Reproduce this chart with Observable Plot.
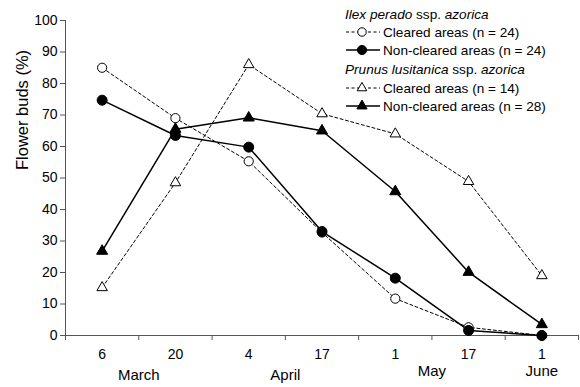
<!DOCTYPE html>
<html>
<head>
<meta charset="utf-8">
<script src="https://cdn.jsdelivr.net/npm/d3@7"></script>
<script src="https://cdn.jsdelivr.net/npm/@observablehq/plot@0.6"></script>
<style>
  html, body { margin: 0; padding: 0; background: white; }
  #chart { width: 580px; height: 387px; }
  svg { display: block; }
</style>
</head>
<body>
<div id="chart"></div>
<script>
// Sampling dates (day of month) and the month each belongs to
const days = ["6", "20", "4", "17", "1", "17", "1"];
const dayMonths = ["March", "March", "April", "April", "May", "May", "June"];

// Percentage of flower buds per sampling date
const ilexCleared = [85, 69, 55.3, 32.7, 11.7, 2.6, 0];
const ilexNonCleared = [74.7, 63.5, 59.8, 33, 18.2, 1.6, 0];
const prunusCleared = [15.2, 48.5, 86, 70.4, 64, 48.9, 19];
const prunusNonCleared = [26.8, 65.5, 69.1, 65, 45.7, 20.1, 3.5];

// Legend headings and entries
const species = ["Ilex perado", "Prunus lusitanica"];
const entryLabels = ["Cleared areas (n = 24)", "Non-cleared areas (n = 24)",
                     "Cleared areas (n = 14)", "Non-cleared areas (n = 28)"];

const yTicks = d3.range(0, 101, 10);
const toRows = (vals) => vals.map((v, i) => ({i, v}));

// Month label positions: centre of the dates in each month
const monthCenters = Array.from(d3.group(days.map((d, i) => ({i, m: dayMonths[i]})), d => d.m),
  ([m, arr]) => ({month: m, x: d3.mean(arr, d => d.i)}));
const earlyMonths = monthCenters.filter(d => d.month === "March" || d.month === "April");
const lateMonths = monthCenters.filter(d => !earlyMonths.includes(d));
const bandEdges = d3.range(days.length + 1).map(k => k - 0.5);

const series = [
  {vals: ilexCleared, symbol: "circle", r: 4.6, fill: "white", dash: "3,2.5", width: 1},
  {vals: ilexNonCleared, symbol: "circle", r: 5, fill: "black", dash: null, width: 1.5},
  {vals: prunusCleared, symbol: "triangle", r: 3.9, fill: "white", dash: "3,2.5", width: 1},
  {vals: prunusNonCleared, symbol: "triangle", r: 4.1, fill: "black", dash: null, width: 1.5}
];

const lineMarks = series.map(s => Plot.line(toRows(s.vals), {
  x: "i", y: "v", stroke: "black", strokeWidth: s.width,
  strokeDasharray: s.dash ?? undefined
}));
const dotOrder = [0, 2, 1, 3];
const dotMarks = dotOrder.map(k => {
  const s = series[k];
  return Plot.dot(toRows(s.vals), {
    x: "i", y: "v", symbol: s.symbol, r: s.r, fill: s.fill,
    stroke: "black", strokeWidth: 1
  });
});

const axisColor = "#555";
const chart = Plot.plot({
  width: 580,
  height: 387,
  marginLeft: 65,
  marginRight: 2,
  marginTop: 20,
  marginBottom: 52,
  x: {domain: [-0.5, days.length - 0.5], axis: null},
  y: {domain: [0, 100], axis: null},
  style: {fontFamily: "'Liberation Sans', Arial, sans-serif", fontSize: "14px", color: "black", background: "white"},
  marks: [
    Plot.ruleX([-0.5], {stroke: axisColor}),
    Plot.ruleY([0], {stroke: axisColor}),
    Plot.axisY({ticks: yTicks, tickSize: 5, tickPadding: 3, stroke: axisColor, fill: "black", fontSize: 14, label: null}),
    Plot.axisX({ticks: bandEdges, tickSize: 5, tickFormat: () => "", stroke: axisColor, label: null}),
    Plot.axisX({ticks: d3.range(days.length), tickSize: 0, tickPadding: 14, tickFormat: i => days[i], fill: "black", fontSize: 14, label: null}),
    Plot.text(earlyMonths, {x: "x", text: "month", frameAnchor: "bottom", dy: 44, fontSize: 15, fill: "black"}),
    Plot.text(lateMonths, {x: "x", text: "month", frameAnchor: "bottom", dy: 40, fontSize: 15, fill: "black"}),
    Plot.text(["Flower buds (%)"], {frameAnchor: "left", rotate: -90, dx: -43, dy: -8, fontSize: 16.5, fill: "black"}),
    ...lineMarks,
    ...dotMarks
  ]
});

document.getElementById("chart").appendChild(chart);

// Legend drawn in the upper right of the plot
const svg = d3.select(chart);
const lg = svg.append("g")
  .attr("font-family", "'Liberation Sans', Arial, sans-serif")
  .attr("font-size", 13.6)
  .attr("text-anchor", "start")
  .attr("fill", "black");

const headingYs = [14, 69];
species.forEach((name, k) => {
  const t = lg.append("text").attr("x", 345).attr("y", headingYs[k]).attr("dy", "0.35em");
  t.append("tspan").attr("font-style", "italic").text(name);
  t.append("tspan").text(" ssp. ");
  t.append("tspan").attr("font-style", "italic").text("azorica");
});

const rowYs = [32, 50, 88, 106];
series.forEach((s, k) => {
  const y = rowYs[k];
  lg.append("line").attr("x1", 346).attr("x2", 380).attr("y1", y).attr("y2", y)
    .attr("stroke", "black").attr("stroke-width", s.width)
    .attr("stroke-dasharray", s.dash);
  const type = s.symbol === "circle" ? d3.symbolCircle : d3.symbolTriangle;
  lg.append("path")
    .attr("d", d3.symbol().type(type).size(Math.PI * s.r * s.r * 0.85)())
    .attr("transform", `translate(362,${y})`)
    .attr("fill", s.fill).attr("stroke", "black").attr("stroke-width", 1);
  lg.append("text").attr("x", 383).attr("y", y).attr("dy", "0.35em").text(entryLabels[k]);
});
</script>
</body>
</html>
